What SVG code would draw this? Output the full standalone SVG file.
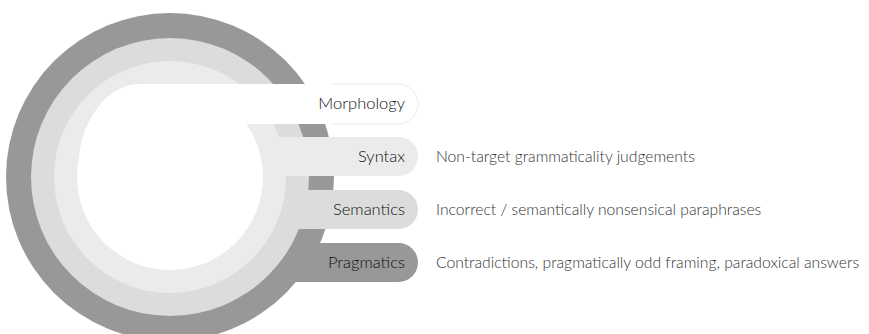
<svg xmlns="http://www.w3.org/2000/svg" width="869" height="334" viewBox="0 0 869 334">
<style>
.dark{fill:#989898}
.mid{fill:#dcdcdc}
.light{fill:#ebebeb}
.white{fill:#ffffff}
.lbl{font-family:"Lato","Noto Sans",sans-serif;font-size:16.5px;fill:#111;text-anchor:end;font-weight:300}
.desc{font-family:"Lato","Noto Sans",sans-serif;font-size:15.7px;fill:#333;font-weight:300}
</style>
<rect width="869" height="334" fill="#ffffff"/>
<g id="pragmatics">
<circle class="dark" cx="170" cy="177" r="164"/>
<rect class="dark" x="170" y="243" width="248" height="39" rx="19.5"/>
<text class="lbl" x="405" y="268">Pragmatics</text>
</g>
<g id="semantics">
<circle class="mid" cx="170" cy="177" r="139"/>
<rect class="mid" x="170" y="190" width="248" height="39" rx="19.5"/>
<text class="lbl" x="405" y="215">Semantics</text>
</g>
<g id="syntax">
<circle class="light" cx="170" cy="177" r="116"/>
<rect class="light" x="170" y="137" width="248" height="39" rx="19.5"/>
<text class="lbl" x="405" y="162">Syntax</text>
</g>
<g id="morphology">
<circle class="white" cx="170" cy="177" r="93"/>
<path class="white" d="M79,160 C80,125 105,84 140,84 H398 A20,20 0 0 1 398,124 H240 L170,177 Z"/>
<path d="M330,84 H398 A20,20 0 0 1 398,124 H330" fill="none" stroke="#ececec" stroke-width="1"/>
<text class="lbl" x="405" y="109">Morphology</text>
</g>
<g id="connectors"></g>
<g id="descriptions">
<text class="desc" x="436" y="162">Non-target grammaticality judgements</text>
<text class="desc" x="436" y="215">Incorrect / semantically nonsensical paraphrases</text>
<text class="desc" x="436" y="268">Contradictions, pragmatically odd framing, paradoxical answers</text>
</g>
</svg>
